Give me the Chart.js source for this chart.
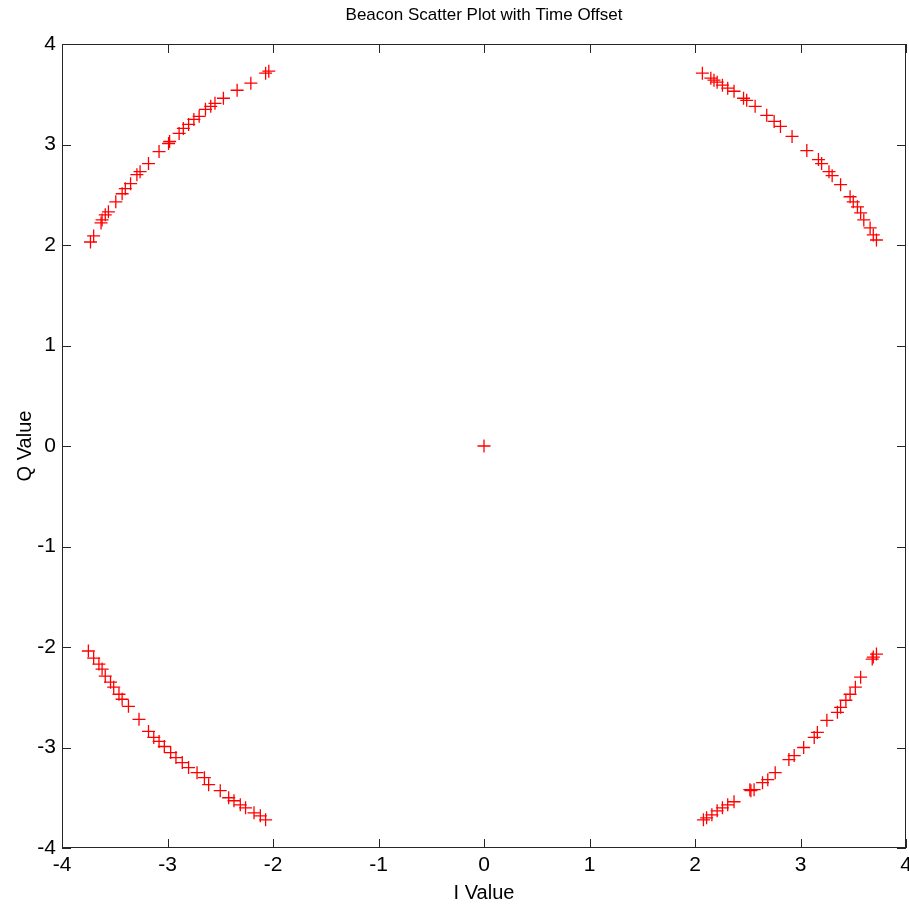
<!DOCTYPE html>
<html>
<head>
<meta charset="utf-8">
<title>Beacon Scatter Plot with Time Offset</title>
<script src="https://cdn.jsdelivr.net/npm/chart.js@4.4.1/dist/chart.umd.min.js"></script>
<style>
  html, body { margin: 0; padding: 0; background: #ffffff; }
  canvas { display: block; }
</style>
</head>
<body>
<canvas id="beaconChart" width="909" height="912"></canvas>
<script>
// values (I, Q) for each quadrant arc
var upperLeftI  = [-3.73, -3.70, -3.63, -3.62, -3.59, -3.56, -3.49, -3.43, -3.40, -3.35, -3.29, -3.26, -3.18, -3.08, -2.99, -2.98, -2.89, -2.85, -2.80, -2.75, -2.70, -2.64, -2.59, -2.55, -2.47, -2.34, -2.21, -2.07, -2.04];
var upperLeftQ  = [ 2.03,  2.09,  2.22,  2.25,  2.30,  2.33,  2.43,  2.51,  2.56,  2.61,  2.70,  2.73,  2.81,  2.93,  3.01,  3.03,  3.11,  3.16,  3.20,  3.25,  3.28,  3.35,  3.38,  3.41,  3.46,  3.54,  3.61,  3.71,  3.73];

var upperRightI = [ 2.07,  2.15,  2.18,  2.21,  2.26,  2.31,  2.37,  2.46,  2.49,  2.57,  2.68,  2.75,  2.81,  2.92,  3.06,  3.17,  3.20,  3.27,  3.30,  3.38,  3.47,  3.50,  3.54,  3.57,  3.60,  3.66,  3.69,  3.72];
var upperRightQ = [ 3.71,  3.66,  3.64,  3.62,  3.59,  3.56,  3.53,  3.46,  3.44,  3.38,  3.29,  3.23,  3.18,  3.08,  2.94,  2.85,  2.81,  2.73,  2.69,  2.60,  2.48,  2.43,  2.38,  2.32,  2.25,  2.17,  2.10,  2.05];

var lowerLeftI  = [-3.75, -3.70, -3.65, -3.62, -3.59, -3.54, -3.51, -3.46, -3.43, -3.37, -3.27, -3.18, -3.13, -3.08, -3.03, -2.97, -2.92, -2.86, -2.80, -2.72, -2.65, -2.61, -2.50, -2.42, -2.37, -2.31, -2.26, -2.18, -2.12, -2.07];
var lowerLeftQ  = [-2.04, -2.11, -2.17, -2.22, -2.29, -2.35, -2.40, -2.47, -2.52, -2.59, -2.72, -2.84, -2.90, -2.94, -2.99, -3.05, -3.10, -3.15, -3.20, -3.25, -3.30, -3.37, -3.43, -3.50, -3.53, -3.57, -3.60, -3.65, -3.68, -3.72];

var lowerRightI = [ 2.08,  2.11,  2.16,  2.21,  2.26,  2.31,  2.37,  2.52,  2.53,  2.56,  2.64,  2.69,  2.76,  2.89,  2.94,  3.03,  3.13,  3.16,  3.25,  3.35,  3.38,  3.43,  3.47,  3.52,  3.57,  3.68,  3.69,  3.72];
var lowerRightQ = [-3.72, -3.70, -3.67, -3.63, -3.60, -3.57, -3.54, -3.42, -3.43, -3.42, -3.35, -3.32, -3.25, -3.12, -3.08, -3.00, -2.90, -2.85, -2.73, -2.65, -2.60, -2.53, -2.47, -2.40, -2.30, -2.12, -2.10, -2.07];

var centerI = [0];
var centerQ = [0];

var axisTicks = [-4, -3, -2, -1, 0, 1, 2, 3, 4];
var chartTitle = 'Beacon Scatter Plot with Time Offset';

function toPoints(xs, ys) {
    var pts = [];
    for (var i = 0; i < xs.length; i++) {
        pts.push({ x: xs[i], y: ys[i] });
    }
    return pts;
}

var allPoints = [].concat(
    toPoints(upperLeftI, upperLeftQ),
    toPoints(upperRightI, upperRightQ),
    toPoints(lowerLeftI, lowerLeftQ),
    toPoints(lowerRightI, lowerRightQ),
    toPoints(centerI, centerQ)
);

var FONT = "'Liberation Sans', Arial, sans-serif";
var TICK_LEN = 9;

// box round the axes with inward ticks on all four sides, like matlab
// the title is centred over the plot box, not over the whole canvas
var matlabAxes = {
    id: 'matlabAxes',
    afterDatasetsDraw: function(chart) {
        var ctx = chart.ctx;
        var a = chart.chartArea;
        var xs = chart.scales.x;
        var ys = chart.scales.y;
        ctx.save();
        ctx.strokeStyle = '#262626';
        ctx.lineWidth = 1;
        ctx.strokeRect(Math.round(a.left) + 0.5, Math.round(a.top) + 0.5,
                       Math.round(a.width) - 1, Math.round(a.height) - 1);
        ctx.beginPath();
        xs.ticks.forEach(function(t) {
            var px = Math.round(xs.getPixelForValue(t.value)) + 0.5;
            ctx.moveTo(px, a.bottom);
            ctx.lineTo(px, a.bottom - TICK_LEN);
            ctx.moveTo(px, a.top);
            ctx.lineTo(px, a.top + TICK_LEN);
        });
        ys.ticks.forEach(function(t) {
            var py = Math.round(ys.getPixelForValue(t.value)) + 0.5;
            ctx.moveTo(a.left, py);
            ctx.lineTo(a.left + TICK_LEN, py);
            ctx.moveTo(a.right, py);
            ctx.lineTo(a.right - TICK_LEN, py);
        });
        ctx.stroke();

        ctx.fillStyle = '#000000';
        ctx.font = '17px ' + FONT;
        ctx.textAlign = 'center';
        ctx.textBaseline = 'middle';
        ctx.fillText(chartTitle, (a.left + a.right) / 2, 15);
        ctx.restore();
    }
};

var ctx = document.getElementById('beaconChart').getContext('2d');

new Chart(ctx, {
    type: 'scatter',
    data: {
        datasets: [{
            label: 'Beacon',
            data: allPoints,
            pointStyle: 'cross',
            pointRadius: 6.5,
            pointHoverRadius: 6.5,
            pointBorderWidth: 1.3,
            borderColor: '#ff0000',
            backgroundColor: '#ff0000'
        }]
    },
    options: {
        responsive: false,
        animation: false,
        events: [],
        layout: {
            autoPadding: false,
            padding: { top: 44, right: 3, bottom: 0, left: 0 }
        },
        plugins: {
            legend: { display: false },
            tooltip: { enabled: false },
            title: { display: false }
        },
        scales: {
            x: {
                type: 'linear',
                min: -4,
                max: 4,
                afterBuildTicks: function(scale) {
                    scale.ticks = axisTicks.map(function(v) { return { value: v }; });
                },
                afterFit: function(scale) {
                    scale.height = 64;
                    // let the last label run off the edge like the original
                    scale.paddingLeft = 0;
                    scale.paddingRight = 0;
                },
                grid: { display: false, drawTicks: false },
                border: { display: false },
                ticks: {
                    color: '#000000',
                    padding: 5,
                    maxRotation: 0,
                    font: { family: FONT, size: 21 }
                },
                title: {
                    display: true,
                    text: 'I Value',
                    color: '#000000',
                    font: { family: FONT, size: 20 },
                    padding: { top: 0, bottom: 7 }
                }
            },
            y: {
                type: 'linear',
                min: -4,
                max: 4,
                afterBuildTicks: function(scale) {
                    scale.ticks = axisTicks.map(function(v) { return { value: v }; });
                },
                afterFit: function(scale) {
                    scale.width = 62;
                    scale.paddingTop = 0;
                    scale.paddingBottom = 0;
                },
                grid: { display: false, drawTicks: false },
                border: { display: false },
                ticks: {
                    color: '#000000',
                    padding: 6,
                    font: { family: FONT, size: 21 }
                },
                title: {
                    display: true,
                    text: 'Q Value',
                    color: '#000000',
                    font: { family: FONT, size: 20 },
                    padding: { top: 13, bottom: 0 }
                }
            }
        }
    },
    plugins: [matlabAxes]
});
</script>
</body>
</html>
